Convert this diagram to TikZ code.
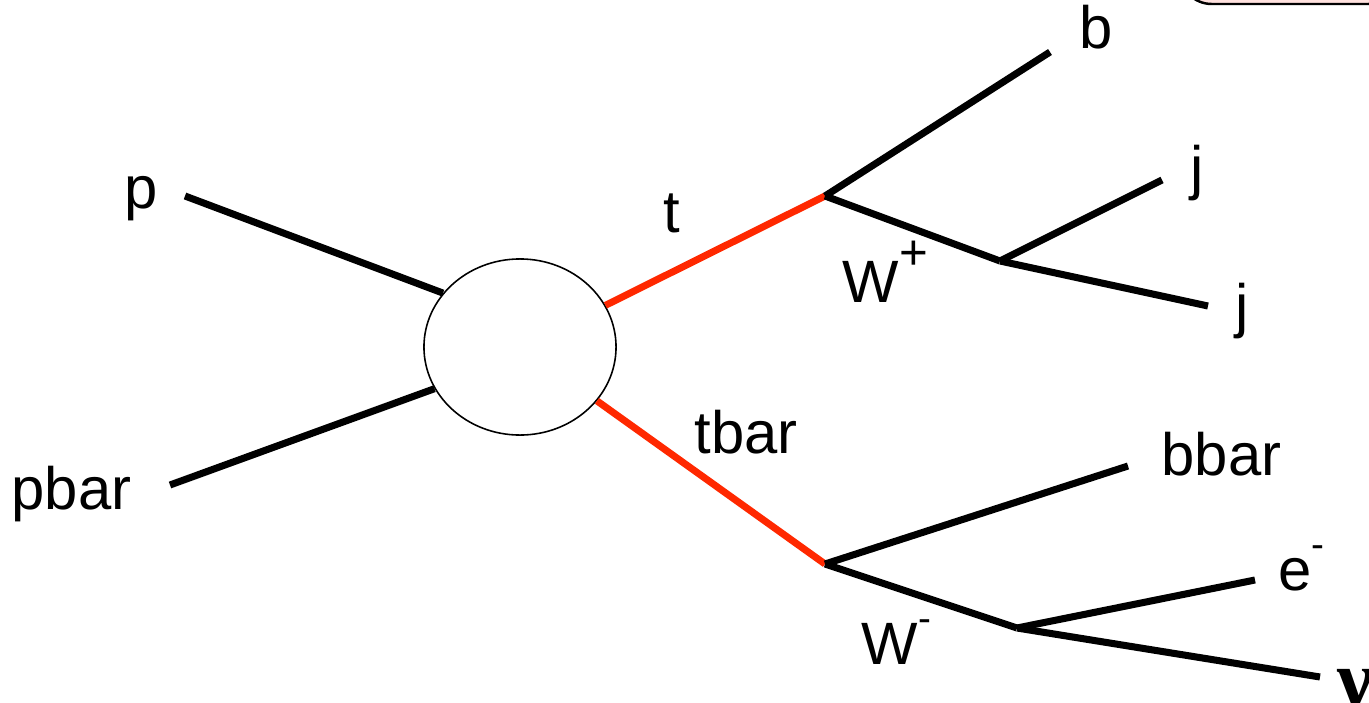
\documentclass[tikz,border=0pt]{standalone}
\usepackage{fontspec}
\setmainfont{Liberation Sans}
\newfontfamily\greekfont{Liberation Serif}
\usetikzlibrary{shapes.geometric}
\newcommand{\supr}[2][11]{\raisebox{0.55em}{\fontsize{#1}{13}\selectfont #2}}
\begin{document}
\begin{tikzpicture}[x=0.01cm,y=-0.01cm,
  leg/.style={line width=2pt},
  top/.style={line width=2pt,draw={rgb,255:red,255;green,40;blue,0}},
  lbl/.style={font=\fontsize{17}{20}\selectfont,inner sep=0pt,anchor=base west},
  every node/.style={inner sep=0pt}]
\useasboundingbox (0,0) rectangle (1369,703);
% partly visible callout box in the corner
\begin{scope}
\clip (0,0) rectangle (1369,703);
\draw[line width=0.7pt,fill={rgb,255:red,255;green,225;blue,222},rounded corners=9] (1180,-40) rectangle (1400,4);
\end{scope}
% interaction blob
\node[draw,ellipse,line width=0.45pt,minimum width=1.92cm,minimum height=1.76cm] (blob) at (520,347) {};
% vertices and free ends
\coordinate (pin) at (185,196);
\coordinate (pbin) at (170,485);
\coordinate (tv) at (825,196);
\coordinate (tbv) at (825,564);
\coordinate (wp) at (1000,261);
\coordinate (wm) at (1017,628);
\coordinate (bout) at (1050,52);
\coordinate (j1) at (1162,180);
\coordinate (j2) at (1208,306);
\coordinate (bbout) at (1128,466);
\coordinate (eout) at (1255,580);
\coordinate (nuout) at (1320,677);
% lines
\draw[leg] (pin) -- (blob.145.5);
\draw[leg] (pbin) -- (blob.206.6);
\draw[top] (blob.26.6) -- (tv);
\draw[top] (blob.-35.6) -- (tbv);
\draw[leg] (tv) -- (bout);
\draw[leg] (tv) -- (wp);
\draw[leg] (wp) -- (j1);
\draw[leg] (wp) -- (j2);
\draw[leg] (tbv) -- (bbout);
\draw[leg] (tbv) -- (wm);
\draw[leg] (wm) -- (eout);
\draw[leg] (wm) -- (nuout);
% labels
\node[lbl] (lp) at (124,208) {p};
\node[lbl] (lpb) at (11,509) {pbar};
\node[lbl] (lt) at (663,232) {t};
\node[lbl] (lwp) at (842,302) {W\supr[14]{+}};
\node[lbl] (lb) at (1079,48) {b};
\node[lbl] (lj1) at (1190,188) {j};
\node[lbl] (lj2) at (1235,326) {j};
\node[lbl] (ltb) at (694,453) {tbar};
\node[lbl] (lbb) at (1161,475) {bbar};
\node[lbl] (le) at (1278,590) {e\supr{-}};
\node[lbl] (lwm) at (861,664) {W\supr{-}};
\node[lbl,font=\fontsize{23}{26}\selectfont\greekfont\bfseries] (lnu) at (1337,706) {ν};
\end{tikzpicture}
\end{document}
